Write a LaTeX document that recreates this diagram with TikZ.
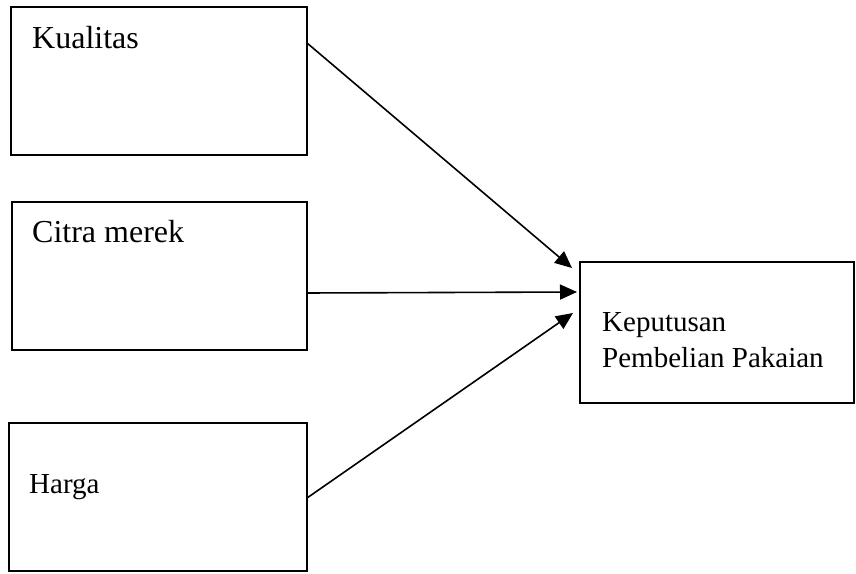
\documentclass[tikz,border=0pt]{standalone}
\usepackage{fontspec}
\setmainfont{Liberation Serif}
\usetikzlibrary{arrows.meta}
\begin{document}
\begin{tikzpicture}[x=1pt,y=1pt,
  box/.style={draw=black, line width=2pt, inner sep=0pt, outer sep=0pt, anchor=north west},
  lbl/.style={inner sep=0pt, anchor=base west},
  arr/.style={line width=1.6pt, -{Triangle[length=17pt,width=15pt]}}]
\useasboundingbox (0,0) rectangle (856,573);
% boxes (y up: y = 573 - ypx)
\node[box, minimum width=296pt, minimum height=148pt] (k) at (11,566) {};
\node[box, minimum width=295pt, minimum height=148pt] (c) at (12,371) {};
\node[box, minimum width=298pt, minimum height=148pt] (h) at (9,150) {};
\node[box, minimum width=274pt, minimum height=141pt] (d) at (580,311) {};
% labels
\node[lbl, font=\fontsize{32}{38}\selectfont] (kt) at (32,524) {Kualitas};
\node[lbl, font=\fontsize{32}{38}\selectfont] (ct) at (32,330) {Citra merek};
\node[lbl, font=\fontsize{29}{36}\selectfont] (ht) at (29,80) {Harga};
\node[lbl, font=\fontsize{29}{36}\selectfont] (dt1) at (602,241) {Keputusan};
\node[lbl, font=\fontsize{29}{36}\selectfont] (dt2) at (602,205) {Pembelian Pakaian};
% arrows
\draw[arr] ([yshift=-36pt]k.north east) -- ([xshift=-8pt,yshift=-6pt]d.north west);
\draw[arr] ([yshift=-91pt]c.north east) -- ([xshift=-3pt,yshift=-30pt]d.north west);
\draw[arr] ([yshift=-75pt]h.north east) -- ([xshift=-7pt,yshift=-51pt]d.north west);
\end{tikzpicture}
\end{document}
